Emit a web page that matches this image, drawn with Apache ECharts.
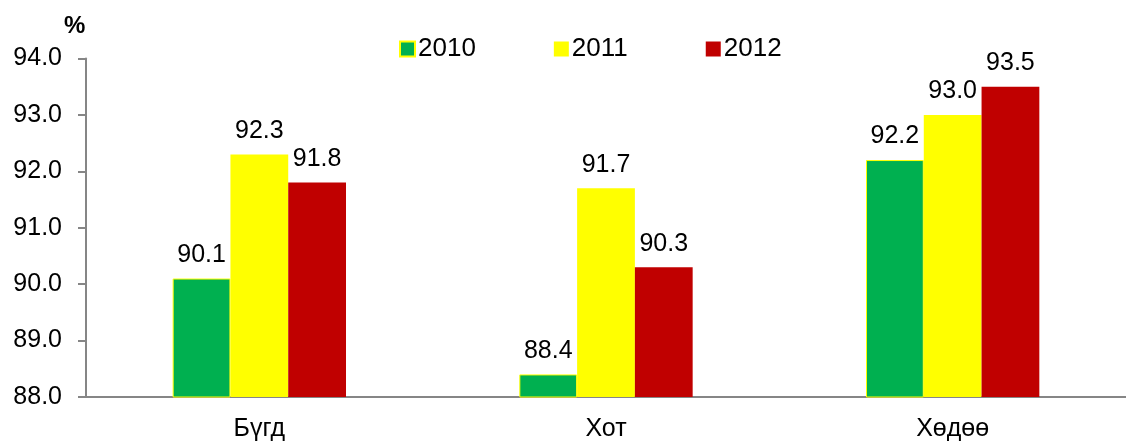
<!DOCTYPE html>
<html>
<head>
<meta charset="utf-8">
<script src="https://cdn.jsdelivr.net/npm/echarts@6/dist/echarts.min.js"></script>
<style>
html,body{margin:0;padding:0;background:#fff;}
#c{width:1126px;height:444px;}
</style>
</head>
<body>
<div id="c"></div>
<script>
var categories = ['Бүгд', 'Хот', 'Хөдөө'];
var seriesNames = ['2010', '2011', '2012'];
var values2010 = [90.1, 88.4, 92.2];
var values2011 = [92.3, 91.7, 93.0];
var values2012 = [91.8, 90.3, 93.5];
var yTicks = [88, 89, 90, 91, 92, 93, 94];

var colors = ['#00B050', '#FFFF00', '#C00000'];
var borders = ['#FFFF00', '#FFFF00', '#C00000'];
var allValues = [values2010, values2011, values2012];
var FONT = 'Liberation Sans, Arial, sans-serif';

var chart = echarts.init(document.getElementById('c'));
var series = allValues.map(function (vals, i) {
  return {
    name: seriesNames[i],
    type: 'bar',
    data: vals,
    barGap: '0%',
    barCategoryGap: '50%',
    itemStyle: { color: colors[i], borderColor: borders[i], borderWidth: i === 0 ? 1 : 0 },
    label: {
      show: true,
      position: 'top',
      distance: 11,
      color: '#000',
      fontFamily: FONT,
      fontSize: 25,
      formatter: function (p) { return p.value.toFixed(1); }
    }
  };
});

chart.setOption({
  animation: false,
  backgroundColor: '#fff',
  title: {
    text: '%',
    left: 59,
    top: 9,
    textStyle: { fontFamily: FONT, fontSize: 24, fontWeight: 'bold', color: '#000' }
  },
  legend: {
    data: seriesNames.map(function (n, i) {
      return { name: n, itemStyle: { color: colors[i], borderColor: borders[i], borderWidth: i === 0 ? 2 : 0 } };
    }),
    left: 394,
    top: 31,
    icon: 'rect',
    itemWidth: 15,
    itemHeight: 15,
    itemGap: 78,
    textStyle: { fontFamily: FONT, fontSize: 26, color: '#000', padding: [0, 0, 0, -2] }
  },
  grid: { left: 86, right: -12, top: 58.5, bottom: 47, containLabel: false },
  xAxis: {
    type: 'category',
    data: categories,
    axisLine: { show: true, lineStyle: { color: '#868686', width: 2 } },
    axisTick: { show: false },
    axisLabel: { color: '#000', fontFamily: FONT, fontSize: 25, margin: 20 }
  },
  yAxis: {
    type: 'value',
    min: yTicks[0],
    max: yTicks[yTicks.length - 1],
    interval: 1,
    splitLine: { show: false },
    axisLine: { show: true, lineStyle: { color: '#868686', width: 2 } },
    axisTick: { show: true, length: 8, lineStyle: { color: '#868686', width: 2 } },
    axisLabel: {
      color: '#000', fontFamily: FONT, fontSize: 25, margin: 24,
      formatter: function (v) { return v.toFixed(1); }
    }
  },
  series: series
});
</script>
</body>
</html>
